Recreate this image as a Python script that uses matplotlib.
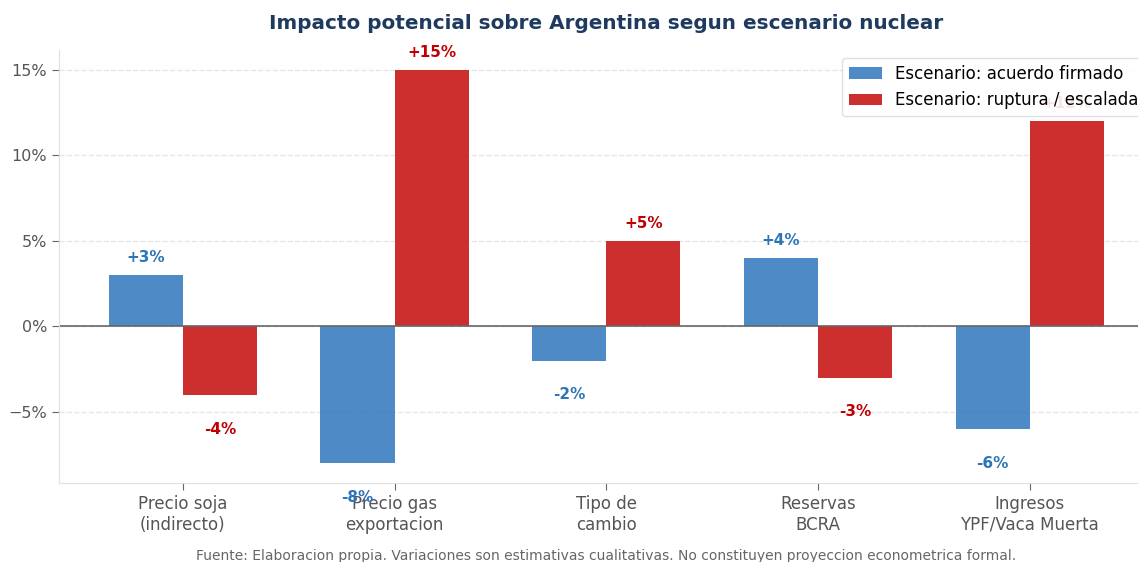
import matplotlib.pyplot as plt
import numpy as np

categories = ["Precio soja\n(indirecto)", "Precio gas\nexportacion", "Tipo de\ncambio",
              "Reservas\nBCRA", "Ingresos\nYPF/Vaca Muerta"]
acuerdo = [3, -8, -2, 4, -6]
ruptura = [-4, 15, 5, -3, 12]
series_names = ["Escenario: acuerdo firmado", "Escenario: ruptura / escalada"]

fig = plt.figure(figsize=(11.38, 5.62), dpi=100)
ax = fig.add_axes([0.0518, 0.1406, 0.962, 0.7705])

x = np.arange(len(categories))
w = 0.35
c_blue = "#3b7dc0"
c_red = "#c81818"
b1 = ax.bar(x - w/2, acuerdo, w, color=c_blue, alpha=0.9, label=series_names[0], zorder=2)
b2 = ax.bar(x + w/2, ruptura, w, color=c_red, alpha=0.9, label=series_names[1], zorder=2)

for xs, vals, col in [(x - w/2, acuerdo, "#2e75b6"), (x + w/2, ruptura, "#c00000")]:
    for xi, v in zip(xs, vals):
        y = v + 1.0 if v > 0 else v - 2.0
        ax.text(xi, y, f"{v:+d}%", ha="center", va="center", fontsize=11,
                fontweight="bold", color=col, zorder=3)

ax.axhline(0, color="#666666", lw=1.2, zorder=2)
ax.set_yticks([-5, 0, 5, 10, 15])
ax.set_yticklabels(["\u22125%", "0%", "5%", "10%", "15%"])
ax.set_xticks(x)
ax.set_xticklabels(categories)
ax.tick_params(axis="both", colors="#666666", labelsize=12, labelcolor="#555555", length=5)
ax.tick_params(axis="y", labelsize=11.5)
ax.yaxis.grid(True, linestyle="--", color="#e6e6e6", lw=1, zorder=0)
for s in ["top", "right"]:
    ax.spines[s].set_visible(False)
for s in ["left", "bottom"]:
    ax.spines[s].set_color("#e0e0e0")

leg = ax.legend(loc="upper right", fontsize=12, framealpha=0.9, edgecolor="#dddddd")
leg.set_zorder(5)

fig.text(0.533, 0.958, "Impacto potencial sobre Argentina segun escenario nuclear",
         ha="center", va="center", fontsize=14.4, fontweight="bold", color="#1f3a5f")
fig.text(0.533, 0.011, "Fuente: Elaboracion propia. Variaciones son estimativas cualitativas. No constituyen proyeccion econometrica formal.",
         ha="center", va="center", fontsize=10, color="#666666")

fig.savefig("out.png", dpi=100)
